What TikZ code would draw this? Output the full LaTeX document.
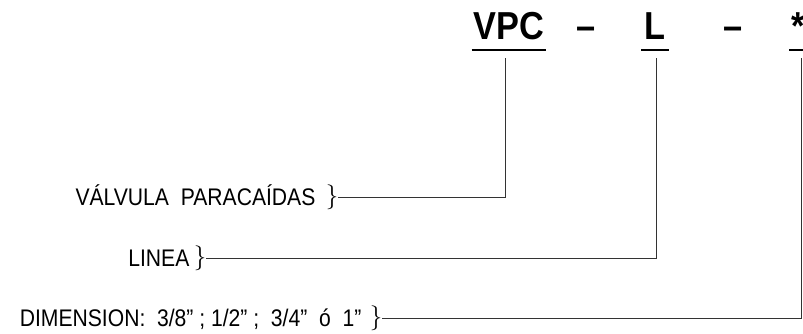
\documentclass[tikz,border=0pt]{standalone}
\usepackage{fontspec}
\setmainfont[FakeStretch=0.88]{Liberation Sans}
\usepackage{tikz}
\usetikzlibrary{positioning}

\begin{document}
\begin{tikzpicture}
  [
      x=1pt, y=1pt,
      code/.style={font=\fontsize{39}{44}\selectfont\bfseries, inner sep=1pt, anchor=base},
      lbl/.style={font=\fontsize{24}{28}\selectfont, inner sep=0pt, text height=17pt, text depth=0pt},
      brace/.style={font=\fontsize{28}{32}\selectfont, inner sep=0pt},
      uline/.style={line width=2.6pt},
      link/.style={line width=0.8pt, draw=black!80},
    ]
    \useasboundingbox (0,0) rectangle (803,334);

    % code row
    \node (vpc) [code] at (509,294) {VPC};
    \node (dashA) [code] at (586,294) {--};
    \node (lin) [code] at (655,294) {L};
    \node (dashB) [code] at (733,294) {--};
    \node (dim) [code] at (798,294) {*};

    \draw [uline] ([xshift=-1pt,yshift=-10pt]vpc.base west) -- ([xshift=1pt,yshift=-10pt]vpc.base east);
    \draw [uline] ([xshift=-2pt,yshift=-10pt]lin.base west) -- ([xshift=2pt,yshift=-10pt]lin.base east);
    \draw [uline] ([xshift=-1pt,yshift=-10pt]dim.base west) -- ([xshift=8pt,yshift=-10pt]dim.base east);

    \coordinate (vpc end) at (505,276);
    \coordinate (lin end) at (656,276);
    \coordinate (dim end) at (801,276);

    % labels
    \node (b1) [brace] at (332,137) {$\big\}$};
    \node (valv) [lbl, left=10pt of b1] {VÁLVULA\ \ PARACAÍDAS};

    \node (b2) [brace] at (200,76) {$\big\}$};
    \node (linea) [lbl, left=4pt of b2] {LINEA};

    \node (b3) [brace] at (376,16) {$\big\}$};
    \node (dimen) [lbl, left=8pt of b3] {DIMENSION:\ \ 3/8”\ ;\ 1/2”\ ;\ \ 3/4”\ \ ó\ \ 1”};

    \draw [link] (b1.east) -| (vpc end);
    \draw [link] (b2.east) -| (lin end);
    \draw [link] (b3.east) -| (dim end);

  \end{tikzpicture}
\end{document}
